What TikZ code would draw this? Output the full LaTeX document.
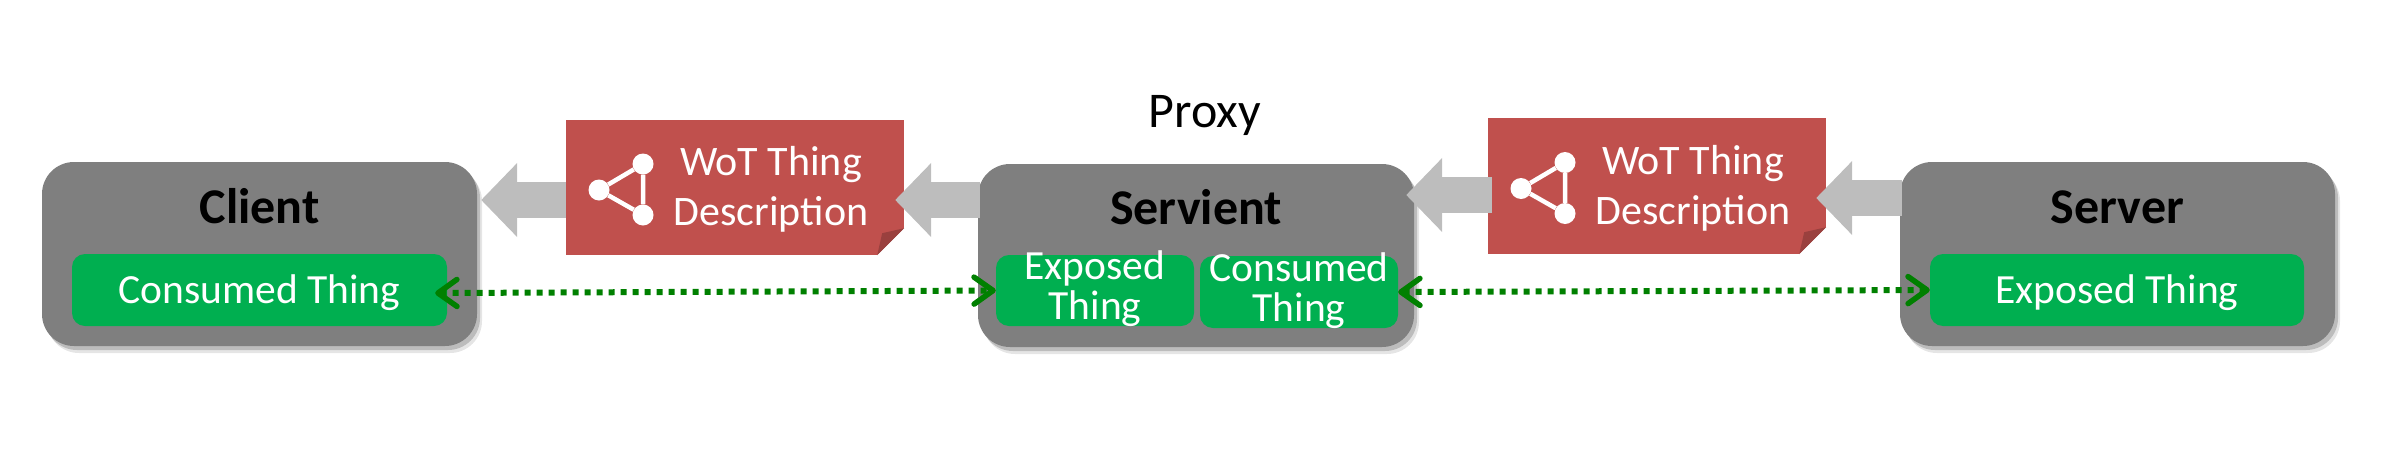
\documentclass[tikz,border=0pt]{standalone}
\usepackage{fontspec}
\setmainfont{Carlito}
\usetikzlibrary{arrows.meta, shadows}
\definecolor{thinggrey}{HTML}{7F7F7F}
\definecolor{thinggreen}{HTML}{00AF50}
\definecolor{notered}{HTML}{C0504D}
\definecolor{notefold}{HTML}{9A403E}
\definecolor{flowgrey}{HTML}{BDBDBD}
\definecolor{linkgreen}{HTML}{008000}
\tikzset{
	thingbox/.style = {rectangle, rounded corners=32pt, fill=thinggrey, minimum height=184pt,
		drop shadow={shadow xshift=5pt, shadow yshift=-7pt, opacity=.10, fill=black},
		drop shadow={shadow xshift=3pt, shadow yshift=-4pt, opacity=.18, fill=black}},
	thingname/.style = {anchor=base, inner sep=0pt, font=\fontsize{50}{50}\selectfont\bfseries},
	greenbox/.style = {rectangle, rounded corners=13pt, fill=thinggreen, minimum height=72pt, text=white,
		text height=33pt, text depth=7pt, inner sep=0pt, font=\fontsize{41.5}{50}\selectfont},
	greentext/.style = {text=white, align=center, inner sep=0pt, font=\fontsize{41.5}{40}\selectfont},
	notebox/.style = {rectangle, fill=notered, minimum width=338pt, minimum height=135pt},
	notetext/.style = {text=white, align=center, inner sep=0pt, font=\fontsize{42}{50}\selectfont},
	icondot/.style = {circle, fill=white, minimum size=21pt, inner sep=0pt},
	iconline/.style = {draw=white, line width=4.5pt},
	flow/.style = {draw=flowgrey, line width=36pt, -{Triangle[length=36pt,width=72pt]}},
	link/.style = {draw=linkgreen, line width=6pt, dash pattern=on 6pt off 6pt,
		>={Straight Barb[length=19pt,width=27pt,line width=5.5pt,round]}, <->}
}
\begin{document}
\begin{tikzpicture}[x=1pt, y=-1pt, node distance=100pt]
		\useasboundingbox (0,0) rectangle (2393,469);

		%thing boxes
		\node (client) [thingbox, minimum width=435pt] at (259.5,254) {};
		\node (servient) [thingbox, minimum width=436pt, minimum height=183pt, right of=client, xshift=836.5pt, yshift=-1.5pt] {};
		\node (server) [thingbox, minimum width=435pt, right of=servient, xshift=821.5pt, yshift=1.5pt] {};
		\node (clientname) [above of=client, yshift=-69pt, thingname] {Client};
		\node (servientname) [above of=servient, yshift=-68.5pt, thingname] {Servient};
		\node (servername) [above of=server, yshift=-69pt, thingname] {Server};
		\node (proxy) [above of=servient, xshift=9pt, yshift=28.5pt, anchor=base, inner sep=0pt, font=\fontsize{50}{50}\selectfont] {Proxy};

		%green boxes
		\node (consumedc) [greenbox, minimum width=375pt, below of=client, yshift=64pt] {Consumed Thing};
		\node (exposedp) [greenbox, minimum width=198pt, minimum height=71pt, below of=servient, xshift=-101pt, yshift=65pt] {};
		\node (consumedp) [greenbox, minimum width=198pt, below of=servient, xshift=103pt, yshift=63.5pt] {};
		\node (exposeds) [greenbox, minimum width=374pt, below of=server, xshift=-0.5pt, yshift=64pt] {Exposed Thing};
		\node (exposedptext) [greentext, yshift=1.5pt] at (exposedp) {Exposed\\Thing};
		\node (consumedptext) [greentext, yshift=1.5pt] at (consumedp) {Consumed\\Thing};

		%thing descriptions
		\node (tdleft) [notebox, right of=client, xshift=375.5pt, yshift=66.5pt] {};
		\node (tdright) [notebox, minimum height=136pt, right of=servient, xshift=361pt, yshift=69.5pt] {};
		\foreach \n in {tdleft, tdright}{
			\node (\n text) [notetext, xshift=36pt, yshift=-2pt] at (\n) {WoT Thing\\Description};
			\fill [white] ([xshift=-27pt]\n.south east) -- (\n.south east) -- ([yshift=27pt]\n.south east) -- cycle;
			\fill [notefold] ([xshift=-27pt]\n.south east) -- ([yshift=27pt]\n.south east) -- ([xshift=-22pt,yshift=22pt]\n.south east) -- cycle;
			\node (\n a) [icondot, xshift=-136pt, yshift=-2.5pt] at (\n) {};
			\node (\n b) [icondot, xshift=-92pt, yshift=23.5pt] at (\n) {};
			\node (\n c) [icondot, xshift=-92pt, yshift=-27.5pt] at (\n) {};
			\path [iconline] (\n a) -- (\n b) -- (\n c) -- (\n a);
		}

		%grey flow arrows
		\path [flow, shorten >=4pt] ([yshift=-12.5pt]tdleft.west) -- ([yshift=54pt]client.east);
		\path [flow, shorten <=-2pt, shorten >=-9pt] ([yshift=55.5pt]servient.west) -- ([yshift=-12.5pt]tdleft.east);
		\path [flow, shorten <=-4pt, shorten >=-8pt] ([yshift=-9pt]tdright.west) -- ([yshift=60.5pt]servient.east);
		\path [flow, shorten <=-2pt, shorten >=-10pt] ([yshift=56pt]server.west) -- ([yshift=-12pt]tdright.east);

		%dotted links
		\path [link, shorten <=-12pt] ([yshift=-3pt]consumedc.east) -- (exposedp.west);
		\path [link] (consumedp.east) -- (exposeds.west);
		\end{tikzpicture}
\end{document}
